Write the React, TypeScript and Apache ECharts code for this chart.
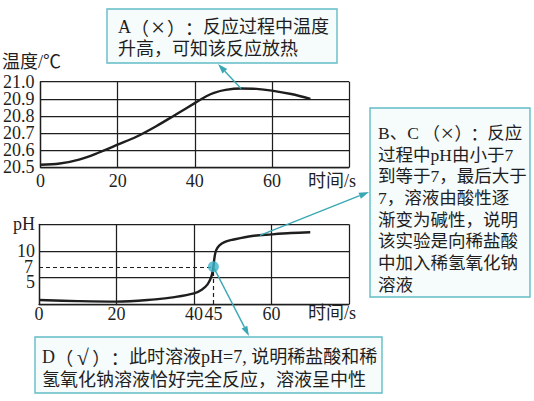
import React, { useEffect, useRef } from "react";
import * as echarts from "echarts";

// ---- data ----
const tempTime = [0, 5, 10, 15, 20, 25, 30, 35, 40, 43, 45, 48, 52, 56, 60, 65, 70];
const tempValues = [20.515, 20.522, 20.545, 20.585, 20.632, 20.68, 20.74, 20.807, 20.875, 20.915, 20.935, 20.952, 20.96, 20.958, 20.948, 20.928, 20.9];
const phTime = [0, 10, 20, 30, 35, 40, 42, 43.5, 44.5, 45, 45.3, 45.7, 46.5, 48, 50, 55, 60, 65, 70];
const phValues = [0.75, 0.55, 0.45, 0.88, 1.3, 2.0, 2.7, 3.7, 5.2, 7, 8.8, 10.1, 11.0, 11.7, 12.1, 12.8, 13.1, 13.35, 13.5];
const timeRange = [0, 80];
const timeInterval = 20;
const tempRange = [20.5, 21.0];
const tempInterval = 0.1;
const tempLabelsOdd = [20.5, 20.7, 20.9];
const tempLabelsEven = [20.6, 20.8, 21.0];
const phRange = [0, 15];
const phInterval = 5;
const phShownTicks = [5, 10];
const neutralPoint = [45, 7];
const arrowAPoint = [52, 20.96];
const arrowBPoint = [57, 12.92];
const tempAxisName = "温度/℃";
const timeAxisName = "时间/s";
const phAxisName = "pH";
// rich-text markup only spaces the full-width brackets like the original print
const noteA = ["A{w|（}{x|×}{w|）}{w|：}反应过程中温度", "升高，可知该反应放热"];
const noteB = [
  "B、C{w|（}{x|×}{w|）}{w|：}反应",
  "过程中pH由小于7",
  "到等于7，最后大于",
  "7，溶液由酸性逐",
  "渐变为碱性，说明",
  "该实验是向稀盐酸",
  "中加入稀氢氧化钠",
  "溶液",
];
const noteD = ["D{w|（}{x|√}{w|）}{w|：}此时溶液pH=7, 说明稀盐酸和稀", "氢氧化钠溶液恰好完全反应，溶液呈中性"];

// ---- styles ----
const FONT = "'Liberation Serif', 'Noto Sans CJK SC', serif";
const CJK = "'Noto Sans CJK SC', sans-serif";
const INK = "#1e1e1e";
const TEAL = "#3aa8b4";
const BOX_STROKE = "#62bcc6";
const BOX_FILL = "#f6fbfb";

const zip = (xs: number[], ys: number[]) => xs.map((x, i) => [x, ys[i]]);
const inList = (v: number, list: number[]) => list.some((x) => Math.abs(x - v) < 1e-6);

function arrow(from: number[], to: number[], head = 10, half = 3.2) {
  const dx = to[0] - from[0];
  const dy = to[1] - from[1];
  const len = Math.hypot(dx, dy);
  const ux = dx / len;
  const uy = dy / len;
  const bx = to[0] - ux * head;
  const by = to[1] - uy * head;
  return [
    { type: "line", z: 20, shape: { x1: from[0], y1: from[1], x2: bx, y2: by }, style: { stroke: TEAL, lineWidth: 1.4 } },
    {
      type: "polygon",
      z: 20,
      shape: { points: [[to[0], to[1]], [bx - uy * half, by + ux * half], [bx + uy * half, by - ux * half]] },
      style: { fill: TEAL },
    },
  ];
}

function note(lines: string[], box: number[], textX: number, textY: number, lineHeight: number, fontSize: number, slot: number, bigSize: number) {
  return [
    { type: "rect", z: 10, shape: { x: box[0], y: box[1], width: box[2], height: box[3] }, style: { fill: BOX_FILL, stroke: BOX_STROKE, lineWidth: 1.4 } },
    {
      type: "text",
      z: 11,
      x: textX,
      y: textY,
      style: {
        text: lines.join("\n"),
        fontSize,
        fontFamily: FONT,
        lineHeight,
        fill: INK,
        align: "left",
        verticalAlign: "top",
        rich: {
          w: { width: slot, align: "center", fontSize, fontFamily: CJK, lineHeight, fill: INK },
          x: { width: slot, align: "center", fontSize: bigSize, fontFamily: FONT, lineHeight, fill: INK },
        },
      },
    },
  ];
}

export default function App() {
  const ref = useRef<HTMLDivElement>(null);

  useEffect(() => {
    if (!ref.current) return;
    const chart = echarts.init(ref.current, undefined, { renderer: "svg" });

    const gridLineStyle = () => ({ color: INK, width: 1.25, type: "solid" });
    const labelFont = { fontSize: 18, fontFamily: FONT, color: INK };

    const xAxisBase = (gridIndex: number, margin: number) => ({
      type: "value",
      gridIndex,
      min: timeRange[0],
      max: timeRange[1],
      interval: timeInterval,
      axisLine: { show: true, lineStyle: { color: INK, width: 1.3 } },
      axisTick: { show: false },
      splitLine: { show: true, lineStyle: gridLineStyle() },
      axisLabel: {
        ...labelFont,
        margin,
        showMinLabel: true,
        hideOverlap: false,
        formatter: (v: number) => (v === timeRange[1] ? "" : String(v)),
      },
    });

    // two overlaid temperature axes, each labelling every other tick, so no label is dropped
    const tempAxis = (labels: number[], primary: boolean) => ({
      type: "value",
      gridIndex: 0,
      position: "left",
      min: tempRange[0],
      max: tempRange[1],
      interval: tempInterval,
      axisLine: { show: primary, lineStyle: { color: INK, width: 1.3 } },
      axisTick: { show: false },
      splitLine: { show: primary, lineStyle: gridLineStyle() },
      axisLabel: {
        ...labelFont,
        margin: 6,
        showMinLabel: true,
        showMaxLabel: true,
        hideOverlap: false,
        formatter: (v: number) => (inList(v, labels) ? v.toFixed(1) : ""),
      },
    });

    const dashedLabel = (text: string, distance: number) => ({
      show: true,
      position: "start",
      distance,
      formatter: text,
      ...labelFont,
    });
    const dashedStyle = { type: [4, 3], color: INK, width: 1.2 };

    const option: any = {
      animation: false,
      grid: [
        { left: 39, top: 81.7, width: 310, height: 85.6 },
        { left: 39, top: 224.3, width: 310, height: 79.7 },
      ],
      xAxis: [xAxisBase(0, 5), xAxisBase(1, 1)],
      yAxis: [
        tempAxis(tempLabelsOdd, true),
        {
          type: "value",
          gridIndex: 1,
          min: phRange[0],
          max: phRange[1],
          interval: phInterval,
          axisLine: { show: true, lineStyle: { color: INK, width: 1.3 } },
          axisTick: { show: false },
          splitLine: { show: true, lineStyle: gridLineStyle() },
          axisLabel: {
            ...labelFont,
            margin: 4,
            showMinLabel: true,
            showMaxLabel: true,
            hideOverlap: false,
            formatter: (v: number) => {
              if (v === phRange[1]) return phAxisName;
              if (v === phShownTicks[0]) return "{low|" + v + "}";
              return phShownTicks.indexOf(v) >= 0 ? String(v) : "";
            },
            rich: {
              low: { ...labelFont, padding: [9, 0, 0, 0] },
            },
          },
        },
        tempAxis(tempLabelsEven, false),
      ],
      series: [
        {
          type: "line",
          xAxisIndex: 0,
          yAxisIndex: 0,
          data: zip(tempTime, tempValues),
          smooth: 0.35,
          showSymbol: false,
          lineStyle: { color: INK, width: 2.4 },
          z: 3,
        },
        {
          type: "line",
          xAxisIndex: 1,
          yAxisIndex: 1,
          data: zip(phTime, phValues),
          smooth: 0.35,
          showSymbol: false,
          lineStyle: { color: INK, width: 2.4 },
          z: 3,
          markLine: {
            silent: true,
            symbol: ["none", "none"],
            animation: false,
            data: [
              [
                { coord: [timeRange[0], neutralPoint[1]], label: dashedLabel(String(neutralPoint[1]), 6), lineStyle: dashedStyle },
                { coord: [neutralPoint[0], neutralPoint[1]] },
              ],
              [
                { coord: [neutralPoint[0], phRange[0]], label: dashedLabel(String(neutralPoint[0]), 1), lineStyle: dashedStyle },
                { coord: [neutralPoint[0], neutralPoint[1]] },
              ],
            ],
          },
        },
        {
          type: "scatter",
          xAxisIndex: 1,
          yAxisIndex: 1,
          data: [neutralPoint],
          symbolSize: 11,
          itemStyle: { color: "#3db5ca" },
          z: 6,
          silent: true,
        },
      ],
    };
    chart.setOption(option);

    const pA = chart.convertToPixel({ gridIndex: 0 }, arrowAPoint) as number[];
    const pB = chart.convertToPixel({ gridIndex: 1 }, arrowBPoint) as number[];
    const pD = chart.convertToPixel({ gridIndex: 1 }, neutralPoint) as number[];

    const axisText = (text: string, x: number, y: number) => ({
      type: "text",
      x,
      y,
      style: { text, fontSize: 18, fontFamily: FONT, fill: INK, verticalAlign: "middle" },
    });

    const graphic: any[] = [
      axisText(tempAxisName, 2, 62),
      axisText(timeAxisName, 308, 181),
      axisText(timeAxisName, 308, 313),
      ...note(noteA, [107, 9, 230, 54], 118, 16, 22, 18, 18, 25),
      ...note(noteB, [370, 108, 160, 189], 378, 122, 21.7, 17.5, 16, 24),
      ...note(noteD, [35, 337, 347, 56], 42, 345.5, 23, 18, 18.5, 22),
      ...arrow(pA, [218, 64]),
      ...arrow(pB, [369, 192]),
      ...arrow(pD, [249, 336]),
    ];
    chart.setOption({ graphic });

    return () => chart.dispose();
  }, []);

  return <div ref={ref} style={{ position: "fixed", left: 0, top: 0, width: 534, height: 401, background: "#fff" }} />;
}
